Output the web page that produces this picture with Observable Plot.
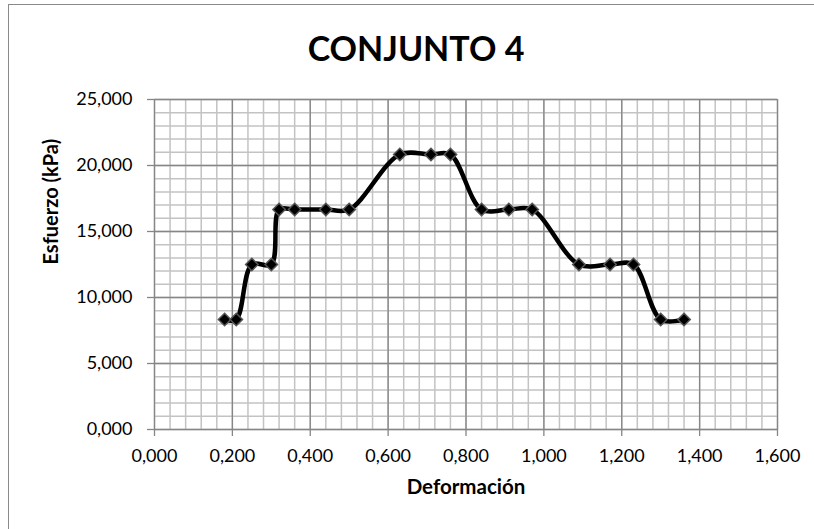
<!DOCTYPE html>
<html>
<head>
<meta charset="utf-8">
<script src="https://cdn.jsdelivr.net/npm/d3@7"></script>
<script src="https://cdn.jsdelivr.net/npm/@observablehq/plot@0.6"></script>
<style>
  html, body { margin: 0; padding: 0; background: #fff; }
  #chart { position: relative; width: 814px; height: 529px; overflow: hidden; font-family: Lato, "Open Sans", sans-serif; }
  #edge { position: absolute; left: 8px; top: 4px; width: 1000px; height: 1000px;
          border-top: 1.5px solid #8a8a8a; border-left: 1.5px solid #8a8a8a; }
  #title { position: relative; height: 44px; padding-top: 26px; text-align: center; font-weight: 700; font-size: 34px;
           line-height: 44px; padding-left: 18px; color: #000; }
  #plot { position: relative; }
</style>
</head>
<body>
<div id="chart">
  <div id="edge"></div>
  <div id="title">CONJUNTO 4</div>
  <div id="plot"></div>
</div>
<script>
// Ensayo: deformación vs. esfuerzo (kPa)
const deformacion = [0.18, 0.21, 0.25, 0.30, 0.32, 0.36, 0.44, 0.50, 0.63, 0.71, 0.76,
                     0.84, 0.91, 0.97, 1.09, 1.17, 1.23, 1.30, 1.36];
const esfuerzo = [8.333, 8.333, 12.5, 12.5, 16.667, 16.667, 16.667, 16.667, 20.833, 20.833, 20.833,
                  16.667, 16.667, 16.667, 12.5, 12.5, 12.5, 8.333, 8.333];

// Axis ticks and grid divisions
const xTicks = [0, 0.2, 0.4, 0.6, 0.8, 1.0, 1.2, 1.4, 1.6];
const yTicks = [0, 5, 10, 15, 20, 25];
const xMinor = d3.range(0, 41).map(i => +(i * 0.04).toFixed(2));
const yMinor = d3.range(0, 26);

const xTitle = "Deformación";
const yTitle = "Esfuerzo (kPa)";

const data = deformacion.map((d, i) => ({x: d, y: esfuerzo[i]}));
const fmt = d3.formatLocale({decimal: ",", thousands: ".", grouping: [3]}).format(".3f");

const chart = Plot.plot({
  width: 814,
  height: 459,
  marginTop: 29,
  marginBottom: 100,
  marginLeft: 154,
  marginRight: 37,
  style: {fontFamily: "Lato, 'Open Sans', sans-serif", fontSize: "18px", color: "#000", background: "transparent"},
  x: {domain: [0, 1.6]},
  y: {domain: [0, 25]},
  marks: [
    Plot.ruleX(xMinor, {stroke: "#c3c3c3", strokeWidth: 1.5}),
    Plot.ruleY(yMinor, {stroke: "#c3c3c3", strokeWidth: 1.5}),
    Plot.ruleX(xTicks, {stroke: "#868686", strokeWidth: 1.3}),
    Plot.ruleY(yTicks, {stroke: "#868686", strokeWidth: 1.3}),
    Plot.axisX({ticks: xTicks, tickFormat: fmt, tickSize: 7, tickPadding: 13, stroke: "#868686", strokeWidth: 1.3, fill: "#000", label: null}),
    Plot.axisY({ticks: yTicks, tickFormat: fmt, tickSize: 7, tickPadding: 15, stroke: "#868686", strokeWidth: 1.3, fill: "#000", label: null}),
    Plot.text([xTitle], {frameAnchor: "bottom", dy: 64, fontWeight: "bold", fontSize: 20.5, fill: "#000"}),
    Plot.text([yTitle], {frameAnchor: "left", dx: -103, rotate: -90, fontWeight: "bold", fontSize: 20, fill: "#000"}),
    Plot.line(data, {x: "x", y: "y", curve: "catmull-rom", stroke: "#000", strokeWidth: 4.5}),
    Plot.dot(data, {x: "x", y: "y", symbol: "diamond2", r: 5.6, fill: "#000", stroke: "#555", strokeWidth: 1.5})
  ]
});
document.getElementById("plot").appendChild(chart);
</script>
</body>
</html>
